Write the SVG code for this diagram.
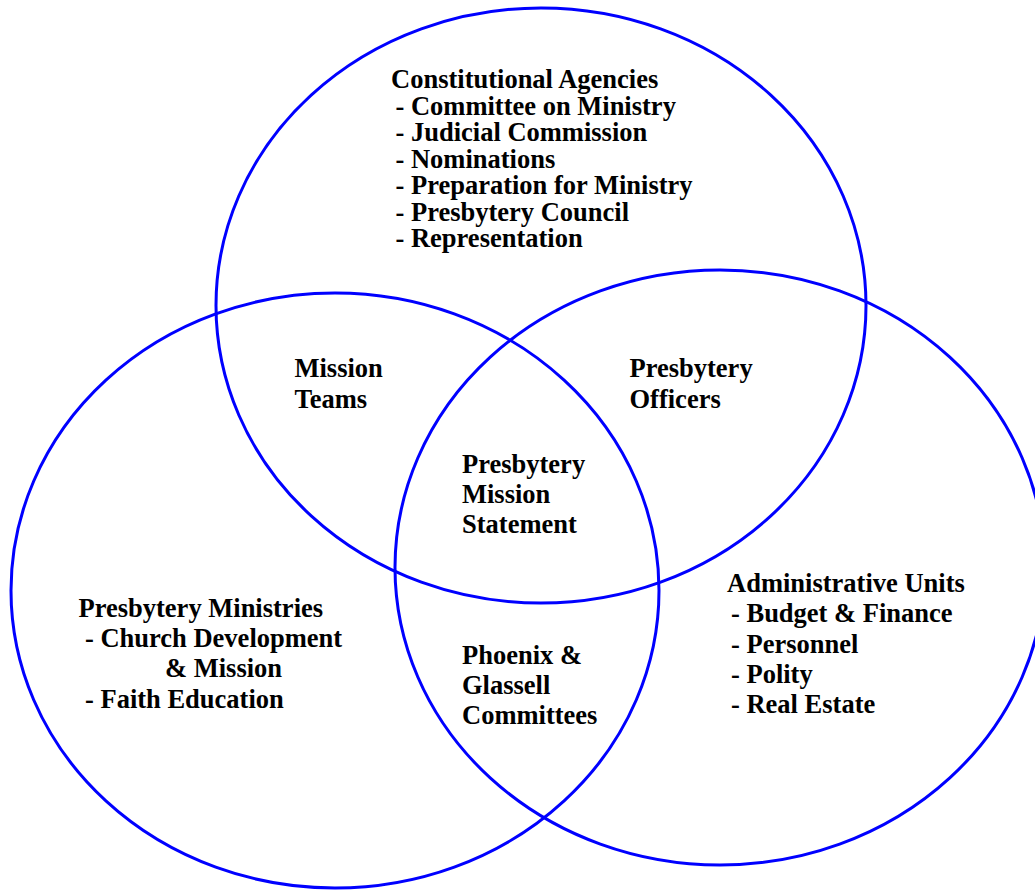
<svg xmlns="http://www.w3.org/2000/svg" width="1035" height="890" viewBox="0 0 1035 890">
<style>
.ring{fill:none;stroke:#0000ff;stroke-width:3}
.t{font-family:"Liberation Serif","Times New Roman",serif;font-weight:bold;font-size:26.5px;fill:#000}
</style>
<rect width="1035" height="890" fill="#fff"/>
<g id="connectors"></g>
<g id="circle-constitutional"><ellipse class="ring" cx="541" cy="305.5" rx="325" ry="297.5"/></g>
<g id="circle-ministries"><ellipse class="ring" cx="335" cy="590.5" rx="324" ry="297.5"/></g>
<g id="circle-administrative"><ellipse class="ring" cx="720" cy="567.5" rx="325" ry="297.5"/></g>
<g id="label-constitutional">
<text class="t" x="391" y="88.3">Constitutional Agencies</text>
<text class="t" x="395.5" y="114.8">- Committee on Ministry</text>
<text class="t" x="395.5" y="141.3">- Judicial Commission</text>
<text class="t" x="395.5" y="167.8">- Nominations</text>
<text class="t" x="395.5" y="194.3">- Preparation for Ministry</text>
<text class="t" x="395.5" y="220.8">- Presbytery Council</text>
<text class="t" x="395.5" y="247.3">- Representation</text>
</g>
<g id="label-mission-teams">
<text class="t" x="294.5" y="377.3">Mission</text>
<text class="t" x="294.5" y="407.7">Teams</text>
</g>
<g id="label-officers">
<text class="t" x="629.5" y="377.3">Presbytery</text>
<text class="t" x="629.5" y="407.7">Officers</text>
</g>
<g id="label-mission-statement">
<text class="t" x="462" y="473.3">Presbytery</text>
<text class="t" x="462" y="503.3">Mission</text>
<text class="t" x="462" y="533.3">Statement</text>
</g>
<g id="label-ministries">
<text class="t" x="78.5" y="616.5">Presbytery Ministries</text>
<text class="t" x="85" y="646.5">- Church Development</text>
<text class="t" x="165" y="677.3">&amp; Mission</text>
<text class="t" x="85" y="708">- Faith Education</text>
</g>
<g id="label-committees">
<text class="t" x="462" y="664">Phoenix &amp;</text>
<text class="t" x="462" y="694.3">Glassell</text>
<text class="t" x="462" y="724">Committees</text>
</g>
<g id="label-administrative">
<text class="t" x="727" y="591.7">Administrative Units</text>
<text class="t" x="731" y="622">- Budget &amp; Finance</text>
<text class="t" x="731" y="652.5">- Personnel</text>
<text class="t" x="731" y="682.5">- Polity</text>
<text class="t" x="731" y="712.5">- Real Estate</text>
</g>
</svg>
